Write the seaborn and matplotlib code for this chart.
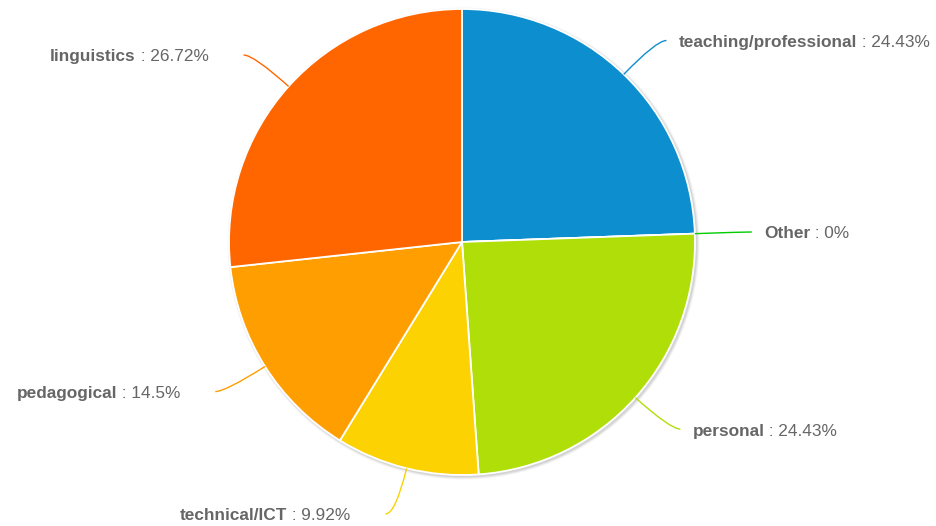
import matplotlib
matplotlib.use("Agg")
import numpy as np
import matplotlib.pyplot as plt
import seaborn as sns
from matplotlib.path import Path
from matplotlib.patches import PathPatch, Circle

# Slice data, clockwise from twelve o'clock
categories = ["teaching/professional", "Other", "personal", "technical/ICT", "pedagogical", "linguistics"]
shares = [24.43, 0, 24.43, 9.92, 14.5, 26.72]
share_labels = ["24.43%", "0%", "24.43%", "9.92%", "14.5%", "26.72%"]
colors = ["#0D8ECF", "#00CC00", "#B0DE09", "#FCD202", "#FF9E01", "#FF6600"]

sns.set_theme(style="white")
plt.rcParams["font.family"] = ["Liberation Sans", "DejaVu Sans"]

W, H = 936, 526
fig = plt.figure(figsize=(W / 100, H / 100), dpi=100)
ax = fig.add_axes([0, 0, 1, 1])
ax.set_xlim(0, W)
ax.set_ylim(0, H)
ax.set_aspect("equal")
ax.axis("off")

cx, cy, r = 462, H - 242, 233

# soft drop shadow under the pie
for dr, a in [(3, 0.08), (2, 0.12), (1, 0.2)]:
    ax.add_patch(Circle((cx + 1.5, cy - 1.5), r + dr, color="#888888", alpha=a, lw=0, zorder=0))

wedges, _ = ax.pie(
    shares, colors=colors, startangle=90, counterclock=False,
    center=(cx, cy), radius=r, normalize=True,
    wedgeprops=dict(edgecolor="white", linewidth=1.3),
)
ax.set_xlim(0, W)
ax.set_ylim(0, H)
ax.set_aspect("equal")

fig.canvas.draw()
renderer = fig.canvas.get_renderer()
txt_color = "#666666"
fs = 12.4

for w, name, lab, col in zip(wedges, categories, share_labels, colors):
    mid = np.deg2rad((w.theta1 + w.theta2) / 2)
    d = np.array([np.cos(mid), np.sin(mid)])
    p0 = np.array([cx, cy]) + r * d
    p1 = p0 + 47 * d
    right = d[0] >= 0
    p2 = p1 + np.array([10 if right else -10, 0])
    path = Path([p0, p1, p2], [Path.MOVETO, Path.CURVE3, Path.CURVE3])
    ax.add_patch(PathPatch(path, facecolor="none", edgecolor=col, lw=1.0, zorder=3))

    ty = p2[1] - 2
    t1 = ax.text(0, ty, name, fontsize=fs, fontweight="bold", color=txt_color, va="center")
    t2 = ax.text(0, ty, " : " + lab, fontsize=fs, color=txt_color, va="center")
    w1 = t1.get_window_extent(renderer).width
    w2 = t2.get_window_extent(renderer).width
    if right:
        x0 = p2[0] + 12
    else:
        x0 = p2[0] - 35 - (w1 + w2)
    t1.set_x(x0)
    t2.set_x(x0 + w1)

fig.savefig("out.png", dpi=100, facecolor="white")
